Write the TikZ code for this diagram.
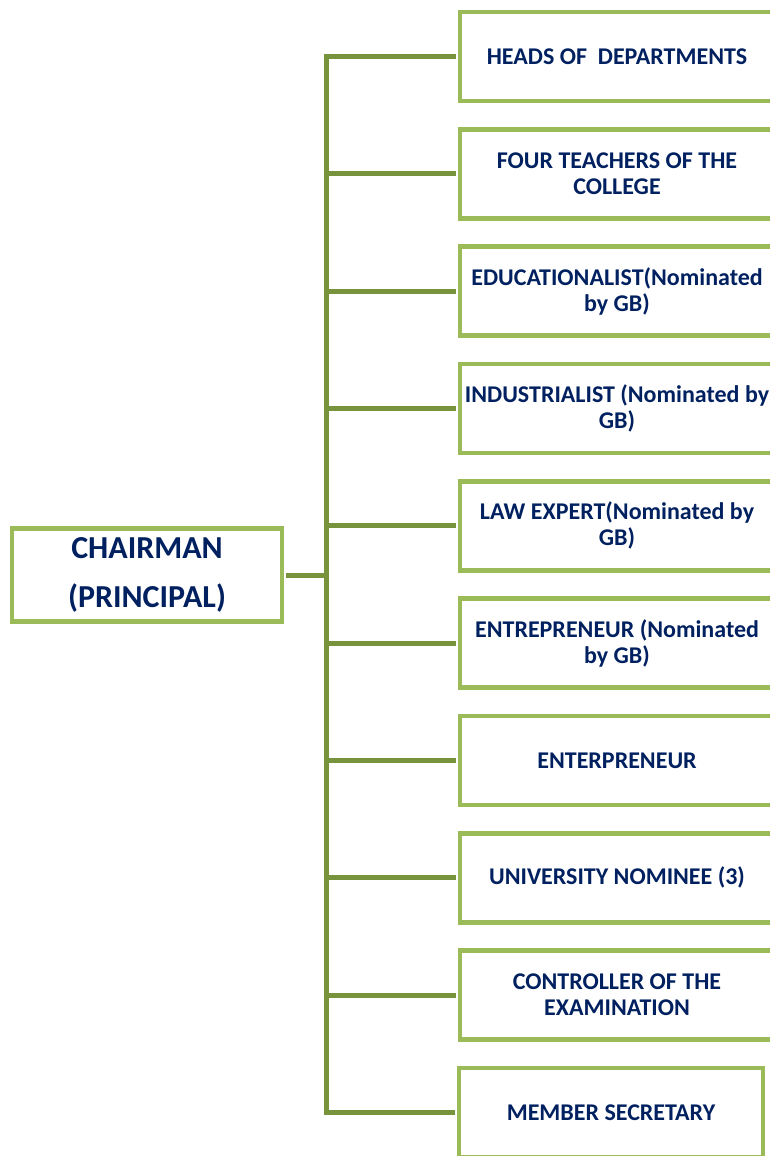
\documentclass[tikz,border=0pt]{standalone}
\usepackage{fontspec}
\setmainfont{Carlito}
\definecolor{boxgreen}{HTML}{9BBB59}
\definecolor{linegreen}{HTML}{77933C}
\definecolor{navy}{HTML}{002060}
\tikzset{
  member/.style={draw=boxgreen, line width=4.5pt, minimum width=314pt,
    minimum height=89pt, inner sep=0pt, align=center, text=navy,
    font=\fontsize{24}{26}\selectfont\bfseries},
  head/.style={member, minimum width=270pt, minimum height=93pt,
    font=\fontsize{32}{49}\selectfont\bfseries},
  link/.style={draw=linegreen, line width=5pt, shorten <=2pt, shorten >=0pt}
}
\begin{document}
\begin{tikzpicture}[x=1pt,y=-1pt]
      \useasboundingbox (0,0) rectangle (770,1156);
      \clip (0,0) rectangle (770,1156);
      \draw
        (147,575) node[head] (chair){CHAIRMAN\\(PRINCIPAL)}
        (617,56.5) node[member] (m1){HEADS OF~~DEPARTMENTS}
        (617,173.8) node[member] (m2){FOUR TEACHERS OF THE\\COLLEGE}
        (617,291.2) node[member] (m3){EDUCATIONALIST(Nominated\\by GB)}
        (617,408.5) node[member] (m4){INDUSTRIALIST (Nominated by\\GB)}
        (617,525.8) node[member] (m5){LAW EXPERT(Nominated by\\GB)}
        (617,643.2) node[member] (m6){ENTREPRENEUR (Nominated\\by GB)}
        (617,760.5) node[member] (m7){ENTERPRENEUR}
        (617,877.8) node[member] (m8){UNIVERSITY NOMINEE (3)}
        (617,995.2) node[member] (m9){CONTROLLER OF THE\\EXAMINATION}
        (611,1112.5) node[member, minimum width=304pt] (m10){MEMBER SECRETARY};
      \coordinate (trunk) at (326,575);
      \begin{scope}[link]
        \draw (chair.east) -- (trunk);
        \draw (m1.west) -| (trunk);
        \draw (m2.west) -| (trunk);
        \draw (m3.west) -| (trunk);
        \draw (m4.west) -| (trunk);
        \draw (m5.west) -| (trunk);
        \draw (m6.west) -| (trunk);
        \draw (m7.west) -| (trunk);
        \draw (m8.west) -| (trunk);
        \draw (m9.west) -| (trunk);
        \draw (m10.west) -| (trunk);
      \end{scope}
    \end{tikzpicture}
\end{document}
